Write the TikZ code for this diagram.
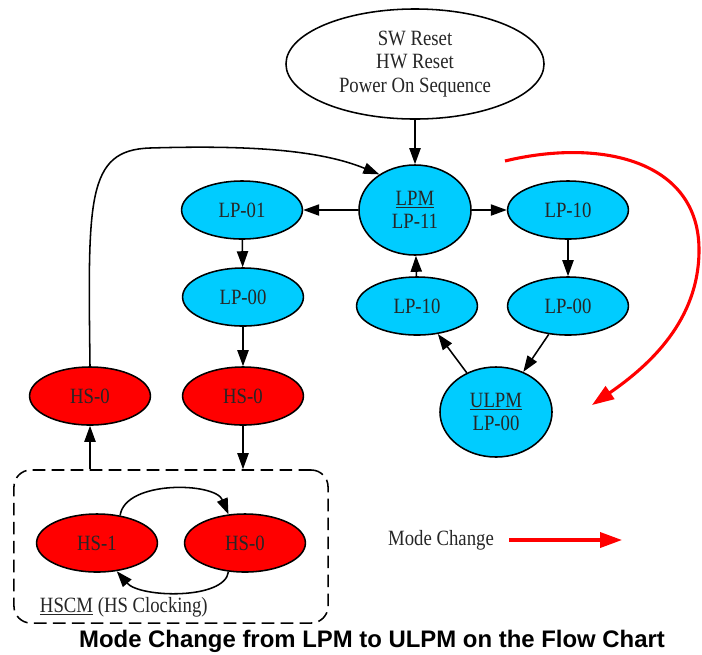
\documentclass[tikz,border=0pt]{standalone}
\usepackage{fontspec}
\setmainfont{Liberation Serif}[FakeStretch=0.86]
\newfontfamily\titlefont{Liberation Sans}
\usetikzlibrary{arrows.meta, positioning, shapes.geometric}
\definecolor{lpblue}{RGB}{0,204,255}
\definecolor{hsred}{RGB}{255,0,0}

\begin{document}
\begin{tikzpicture}[
  x=0.025cm, y=-0.025cm,
  state/.style={
    ellipse, draw, line width=1.1pt, inner sep=0pt, align=center,
    font=\fontsize{15.5}{16.5}\selectfont, text=black!85
  },
  lp/.style={state, fill=lpblue, minimum width=3.02cm, minimum height=1.45cm},
  lpm/.style={state, fill=lpblue, minimum width=2.8cm, minimum height=2.25cm},
  hs/.style={state, fill=hsred, minimum width=3.02cm, minimum height=1.45cm},
  arr/.style={-{Triangle[length=4mm, width=2.8mm]}, line width=1.1pt},
  chg/.style={-{Triangle[length=5.5mm, width=3.8mm]}, line width=2.2pt, red}
]
\useasboundingbox (0,0) rectangle (702,654);

% LP states
\node[state, minimum width=6.45cm, minimum height=2.75cm] (reset) at (415,64) {SW Reset\\HW Reset\\Power On Sequence};
\node[lpm] (lpm)   at (415,210) {\underline{LPM}\\LP-11};
\node[lp]  (lp01)  at (242,210) {LP-01};
\node[lp]  (lp00a) at (243,297) {LP-00};
\node[lp]  (lp10a) at (568,210) {LP-10};
\node[lp]  (lp00b) at (568,306) {LP-00};
\node[lp]  (lp10b) at (417,306) {LP-10};
\node[lpm] (ulpm)  at (496,412) {\underline{ULPM}\\LP-00};

% HS states
\node[hs] (hs0a) at (90,396)  {HS-0};
\node[hs] (hs0b) at (243,396) {HS-0};
\node[draw, dashed, dash pattern=on 9pt off 4.5pt, rounded corners=12pt, line width=1.1pt,
      minimum width=7.85cm, minimum height=3.825cm] (hscm) at (171,546.5) {};
\node[hs] (hs1)  at (97,543)  {HS-1};
\node[hs] (hs0c) at (245,543) {HS-0};
\node[anchor=west, font=\fontsize{15.5}{16.5}\selectfont, text=black!85] (hscmlbl) at (35,607) {\underline{HSCM} (HS Clocking)};

% Transitions
\draw[arr] (reset) -- (lpm);
\draw[arr] (lpm) -- (lp01);
\draw[arr] (lpm) -- (lp10a);
\draw[arr] (lp01) -- (lp00a);
\draw[arr] (lp00a) -- (hs0b);
\draw[arr] (lp10a) -- (lp00b);
\draw[arr] (lp00b) -- (ulpm);
\draw[arr] (ulpm) -- (lp10b);
\draw[arr] (lp10b) -- (lpm);
\draw[arr] (hs0b) -- (hs0b |- hscm.north);
\draw[arr] (hs0a |- hscm.north) -- (hs0a);
\draw[arr] (hs0a.north) .. controls (88,200) and (86,150) .. (150,148) .. controls (250,145) and (320,150) .. (lpm.135);
\draw[arr] (hs1.50) .. controls (125,480) and (215,482) .. (hs0c.120);
\draw[arr] (hs0c.240) .. controls (225,600) and (140,598) .. (hs1.305);

% Mode change
\coordinate (chgs) at (505,161);
\coordinate (chge) at (592,405);
\draw[chg] (chgs) .. controls (600,138) and (699,160) .. (699,250) .. controls (699,320) and (650,365) .. (chge);

% Legend
\node[font=\fontsize{15.5}{16.5}\selectfont, text=black!85] (legend) at (441,540) {Mode Change};
\coordinate (legs) at (509,540);
\coordinate (lege) at (622,540);
\draw[chg] (legs) -- (lege);

% Title
\node[font=\titlefont\bfseries\fontsize{17}{20}\selectfont] (title) at (372,641) {Mode Change from LPM to ULPM on the Flow Chart};
\end{tikzpicture}
\end{document}
